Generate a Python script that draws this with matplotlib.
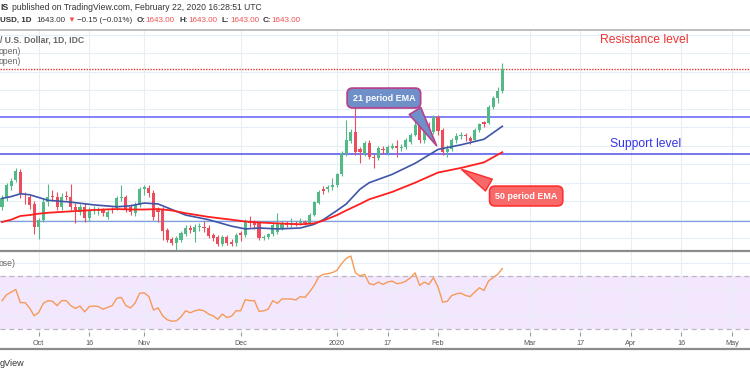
import numpy as np
import pandas as pd
import matplotlib
matplotlib.use("Agg")
import matplotlib.pyplot as plt
from matplotlib.lines import Line2D

plt.rcParams['font.family'] = ['Liberation Sans', 'DejaVu Sans']

# XAU/USD daily candles, 19 Sep 2019 .. 21 Feb 2020
opens = [1494, 1503, 1516, 1523, 1532, 1505, 1504, 1497, 1472, 1480,
         1499, 1506, 1505, 1494, 1506, 1505, 1494, 1488, 1494, 1482,
         1490, 1489, 1490, 1483, 1491, 1493, 1503, 1504, 1494, 1487,
         1496, 1513, 1514, 1509, 1491, 1490, 1469, 1459, 1455, 1458,
         1464, 1471, 1467, 1472, 1472, 1471, 1463, 1461, 1454, 1461,
         1456, 1455, 1466, 1463, 1478, 1476, 1476, 1460, 1461, 1464,
         1467, 1471, 1476, 1474, 1476, 1476, 1477, 1476, 1485, 1498,
         1513, 1513, 1515, 1517, 1529, 1551, 1565, 1575, 1556, 1551,
         1563, 1548, 1547, 1557, 1552, 1558, 1560, 1558, 1559, 1564,
         1572, 1582, 1566, 1580, 1575, 1591, 1577, 1553, 1557, 1566,
         1570, 1572, 1568, 1566, 1577, 1586, 1585, 1602, 1612, 1619]
highs = [1507, 1520, 1525, 1536, 1535, 1510, 1507, 1500, 1482, 1502,
         1519, 1512, 1510, 1509, 1511, 1519, 1498, 1497, 1498, 1494,
         1495, 1494, 1493, 1490, 1494, 1506, 1518, 1507, 1497, 1499,
         1515, 1517, 1517, 1512, 1494, 1494, 1471, 1461, 1462, 1468,
         1474, 1474, 1475, 1476, 1479, 1474, 1466, 1463, 1463, 1463,
         1459, 1466, 1468, 1481, 1484, 1480, 1478, 1463, 1466, 1476,
         1487, 1479, 1479, 1482, 1479, 1482, 1480, 1487, 1500, 1512,
         1516, 1518, 1525, 1530, 1554, 1588, 1578, 1616, 1559, 1565,
         1566, 1551, 1560, 1560, 1561, 1563, 1566, 1562, 1568, 1574,
         1588, 1584, 1581, 1586, 1593, 1593, 1579, 1561, 1568, 1574,
         1575, 1574, 1570, 1579, 1585, 1587, 1604, 1614, 1624, 1649]
lows = [1490, 1500, 1512, 1521, 1503, 1497, 1492, 1464, 1459, 1477,
        1495, 1500, 1490, 1491, 1501, 1490, 1476, 1485, 1478, 1479,
        1486, 1485, 1484, 1481, 1487, 1491, 1500, 1488, 1485, 1484,
        1494, 1507, 1505, 1480, 1478, 1458, 1456, 1453, 1447, 1456,
        1462, 1466, 1456, 1468, 1467, 1460, 1457, 1452, 1452, 1453,
        1451, 1452, 1457, 1461, 1472, 1470, 1458, 1458, 1459, 1462,
        1465, 1469, 1472, 1472, 1473, 1474, 1474, 1475, 1484, 1497,
        1508, 1510, 1512, 1515, 1527, 1549, 1563, 1550, 1541, 1549,
        1546, 1536, 1545, 1551, 1550, 1556, 1548, 1554, 1556, 1562,
        1570, 1563, 1563, 1570, 1573, 1572, 1550, 1548, 1554, 1563,
        1567, 1565, 1562, 1565, 1575, 1580, 1583, 1600, 1606, 1617]
closes = [1503, 1517, 1522, 1533, 1509, 1504, 1496, 1472, 1480, 1499,
          1504, 1505, 1494, 1505, 1504, 1494, 1490, 1494, 1482, 1490,
          1491, 1491, 1487, 1488, 1490, 1503, 1505, 1491, 1488, 1496,
          1513, 1515, 1509, 1483, 1488, 1468, 1458, 1455, 1460, 1466,
          1471, 1469, 1472, 1473, 1471, 1462, 1460, 1454, 1461, 1455,
          1454, 1463, 1463, 1479, 1476, 1474, 1460, 1461, 1464, 1474,
          1476, 1476, 1474, 1476, 1475, 1479, 1476, 1485, 1499, 1510,
          1511, 1515, 1517, 1529, 1552, 1566, 1575, 1553, 1553, 1563,
          1548, 1547, 1558, 1555, 1559, 1560, 1558, 1559, 1566, 1572,
          1582, 1566, 1579, 1575, 1591, 1576, 1553, 1557, 1566, 1570,
          1572, 1570, 1565, 1577, 1584, 1584, 1602, 1612, 1619, 1643]

# EMA lines, sampled at these bar numbers
ema_idx = [0, 2, 4, 6, 8, 10, 15, 20, 25, 28, 31, 34, 37, 40, 45, 50,
           53, 56, 60, 65, 68, 70, 73, 75, 78, 80, 85, 90, 95, 100, 105, 109]
ema21 = [1503, 1505, 1508, 1507, 1504, 1501, 1499, 1496, 1494, 1495, 1498,
         1497, 1491, 1485, 1480, 1473, 1470, 1471, 1470, 1471, 1475, 1480,
         1490, 1497, 1513, 1520, 1529, 1541, 1556, 1561, 1567, 1581]
ema50 = [1477.5, 1480, 1484, 1485, 1486.5, 1487.5, 1489, 1490.5, 1491.5,
         1491, 1491, 1491.5, 1490, 1487, 1483, 1480, 1478, 1477, 1476, 1475,
         1476, 1479, 1485, 1490, 1497, 1502, 1510, 1520, 1531, 1536, 1542, 1553]

# RSI(14) per bar
rsi = [51.5, 56, 58, 60, 50, 50, 46, 40, 42.5, 49.5,
       51.5, 51, 47.7, 51.5, 51.5, 47.7, 45.6, 47.4, 43, 47,
       47.4, 47, 45, 46.4, 47.7, 53.3, 54, 47.7, 46, 49.7,
       57.2, 57.4, 54.6, 44.4, 46, 40, 37, 35.9, 36.2, 39.2,
       43.8, 42.3, 43.8, 44.6, 43.8, 41.3, 40, 37.4, 41.3, 38.7,
       39.7, 43.8, 43.8, 52.3, 51.5, 51.5, 43.3, 43.8, 45.1, 51.5,
       49.5, 52.8, 52.8, 52.8, 52, 54.6, 54, 58, 63, 69.5,
       71.5, 72, 72.8, 74.6, 79.7, 83.6, 85.4, 72.6, 70.3, 71.5,
       64.4, 63.6, 65.6, 63.8, 65.6, 66.4, 64.4, 64.9, 66.4, 69,
       72.6, 63, 65.6, 63.8, 69, 61.8, 50.3, 51, 55.4, 56.7,
       57.2, 55.4, 54.6, 58, 61.3, 59.2, 66.4, 69, 71.5, 75.9]

# drawn levels
resistance = 1643
upper_line = 1591
support = 1551
lower_line = 1479

tick_dates = ["2019-10-01", "2019-10-16", "2019-11-01", "2019-12-02", "2020-01-02",
              "2020-01-17", "2020-02-03", "2020-03-02", "2020-03-17", "2020-04-01",
              "2020-04-16", "2020-05-01"]
tick_labels = ["Oct", "16", "Nov", "Dec", "2020", "17", "Feb", "Mar", "17", "Apr", "16", "May"]

# trading days (no bar on 25 Dec / 1 Jan)
days = pd.bdate_range("2019-09-19", "2020-05-15")
days = days.drop([pd.Timestamp("2019-12-25"), pd.Timestamp("2020-01-01")])
tick_pos = [days.get_loc(pd.Timestamp(d)) for d in tick_dates]

GREEN = "#53b987"
RED = "#eb4d5c"
GRID = "#e8eef5"

W, H = 750, 375
fig = plt.figure(figsize=(7.5, 3.75), dpi=100)


def box(x0, y0, x1, y1):
    return [x0 / W, 1 - y1 / H, (x1 - x0) / W, (y1 - y0) / H]


def ftext(px, py, s, **kw):
    fig.text(px / W, 1 - py / H, s, va="center", **kw)


ax = fig.add_axes(box(0, 30, 750, 250))
ax_rsi = fig.add_axes(box(0, 251, 750, 332))

xlim = (-2 / 4.59, 748 / 4.59)

# ---- price pane
x = np.arange(len(opens))
o = np.array(opens)
c = np.array(closes)
cols = [GREEN if cc >= oo else RED for oo, cc in zip(o, c)]
ax.vlines(x, lows, highs, colors=cols, lw=0.8, zorder=3)
ax.bar(x, np.maximum(np.abs(c - o), 0.8), bottom=np.minimum(o, c), width=0.68,
       color=cols, lw=0, zorder=4)

ax.plot(ema_idx, ema21, color="#3f55a8", lw=1.2, zorder=5)
ax.plot(ema_idx, ema50, color="#ff1f1f", lw=1.3, zorder=5)

ax.axhline(resistance, color="#e53935", lw=1.0, ls=(0, (1, 1)), zorder=2)
ax.axhline(upper_line, color="#6060f5", lw=1.1, zorder=2)
ax.axhline(support, color="#5050f0", lw=1.1, zorder=2)
ax.axhline(lower_line, color="#7f9fe0", lw=0.9, zorder=2)

ax.text(139.9, 1674.4, "Resistance level", color="#ee3333", fontsize=8.7,
        ha="center", va="center")
ax.text(140.3, 1561.9, "Support level", color="#3535e8", fontsize=8.7,
        ha="center", va="center")

ax.annotate("21 period EMA", xy=(95, 1557.5), xytext=(83.2, 1611.6),
            ha="center", va="center", color="white", fontsize=6.5, fontweight="bold",
            bbox=dict(boxstyle="round,pad=0.6", fc="#6f8fc9", ec="#b4428c", lw=1.3),
            arrowprops=dict(arrowstyle="wedge,tail_width=1.5,shrink_factor=0.5",
                            fc="#6f8fc9", ec="#b4428c", lw=1.2, relpos=(0.9, 0.15)),
            zorder=6)
ax.annotate("50 period EMA", xy=(99.6, 1535.9), xytext=(114.2, 1505.6),
            ha="center", va="center", color="white", fontsize=6.5, fontweight="bold",
            bbox=dict(boxstyle="round,pad=0.6", fc="#f86a6a", ec="#ff3030", lw=1.2),
            arrowprops=dict(arrowstyle="wedge,tail_width=1.5,shrink_factor=0.5",
                            fc="#f86a6a", ec="#ff3030", lw=1.1, relpos=(0.12, 0.85)),
            zorder=6)

ax.set_xlim(*xlim)
ax.set_ylim(1447.2, 1685.2)
ax.set_xticks(tick_pos)
ax.set_yticks(np.arange(1460, 1685, 20))
ax.grid(True, color=GRID, lw=0.8)
ax.set_axisbelow(True)
ax.tick_params(left=False, bottom=False, labelleft=False, labelbottom=False)
for s in ax.spines.values():
    s.set_visible(False)
ax.spines["top"].set_visible(True)
ax.spines["top"].set_color("#b4b4b4")
ax.spines["top"].set_linewidth(1.2)

# ---- RSI pane
ax_rsi.axhspan(30, 70, color="#f3e7fd", lw=0, zorder=0)
ax_rsi.axhline(70, color="#b9b5c2", lw=0.9, ls=(0, (4, 3)), zorder=1)
ax_rsi.axhline(30, color="#b9b5c2", lw=0.9, ls=(0, (4, 3)), zorder=1)
ax_rsi.plot(np.arange(len(rsi)), rsi, color="#f59a5a", lw=1.0, zorder=3)
ax_rsi.set_xlim(*xlim)
ax_rsi.set_ylim(27.7, 89.2)
ax_rsi.set_xticks(tick_pos)
ax_rsi.set_xticklabels(tick_labels)
ax_rsi.set_yticks([40, 60, 80])
ax_rsi.grid(True, color=GRID, lw=0.8, zorder=0.5)
ax_rsi.set_axisbelow(True)
ax_rsi.tick_params(axis="y", left=False, labelleft=False)
ax_rsi.tick_params(axis="x", length=3, width=0.8, color="#9a9a9a",
                   labelsize=5.2, labelcolor="#555555", pad=2.5)
for s in ax_rsi.spines.values():
    s.set_visible(False)
ax_rsi.spines["top"].set_visible(True)
ax_rsi.spines["top"].set_color("#8c8c8c")
ax_rsi.spines["top"].set_linewidth(1.6)

fig.add_artist(Line2D([0, 1], [1 - 349 / H, 1 - 349 / H], color="#8c8c8c", lw=1.6))

# ---- header and leftover legend text
HS = 5.8
ftext(0, 7, "IS", fontsize=6.2, fontweight="bold", color="#333333")
ftext(12, 7, "published on TradingView.com, February 22, 2020 16:28:51 UTC",
      fontsize=6.2, color="#333333")
ftext(0, 20, "USD, 1D", fontsize=HS, fontweight="bold", color="#333333")
ftext(36, 20, "1643.00", fontsize=HS, color="#333333")
ftext(67, 20, "\u25bc", fontsize=HS, color="#ef5350")
ftext(77, 20, "\u22120.15 (\u22120.01%)", fontsize=HS, color="#333333")
for px, lab in [(137, "O:"), (180, "H:"), (222, "L:"), (263, "C:")]:
    ftext(px, 20, lab, fontsize=HS, fontweight="bold", color="#333333")
    ftext(px + 8, 20, "1643.00", fontsize=HS, color="#ef5350")

ftext(0, 40, "/ U.S. Dollar, 1D, IDC", fontsize=6.2, fontweight="bold", color="#666666")
ftext(-1, 52, "open)", fontsize=6.2, color="#666666")
ftext(-1, 62, "open)", fontsize=6.2, color="#666666")
ftext(-1, 263, "ose)", fontsize=6.2, color="#666666")
ftext(0, 363, "gView", fontsize=6.5, color="#333333")

fig.savefig("out.png", dpi=100)
